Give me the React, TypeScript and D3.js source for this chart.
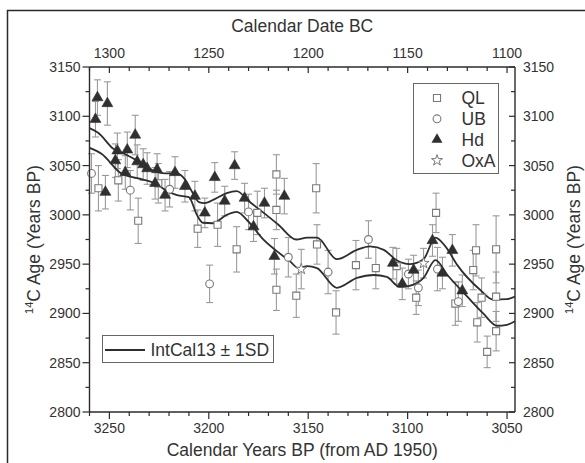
import React from "react";
import * as d3 from "d3";

// ---- data (BP year, 14C age, 1 sigma error) ----
const qlYears = [3255.5, 3245.5, 3235.5, 3225.4, 3205.6, 3195.6, 3186, 3175.6, 3166, 3166, 3166, 3156, 3146, 3145.6, 3136, 3126, 3116, 3105.5, 3095.7, 3085.7, 3076, 3067, 3065.6, 3065, 3062.8, 3060, 3055.5, 3055.5, 3055.5];
const qlAges = [3027, 3035, 2994, 3032, 2986, 2990, 2965, 3002, 3041, 3005, 2924, 2918, 3027, 2970, 2901, 2949, 2946, 2948, 2916, 3002, 2910, 2944, 2964, 2891, 2916, 2861, 2965, 2917, 2882];
const qlErrs = [23, 21, 23, 20, 19, 22, 23, 22, 20, 20, 21, 22, 25, 20, 22, 25, 21, 18, 17, 20, 22, 20, 26, 20, 20, 16, 34, 25, 20];

const ubYears = [3259, 3239.5, 3219.7, 3199.6, 3180, 3160, 3140, 3119.7, 3099.6, 3094.6, 3085, 3074.5];
const ubAges = [3042, 3025, 3026, 2930, 3003, 2957, 2942, 2975, 2940, 2926, 2945, 2912];
const ubErrs = [20, 20, 18, 19, 18, 20, 22, 19, 15, 18, 22, 20];

const hdYears = [3256, 3251, 3257, 3252, 3246, 3247, 3241, 3242, 3237, 3236, 3233, 3231, 3226, 3227, 3222, 3217, 3212, 3207, 3202, 3197, 3192, 3187, 3182, 3177.5, 3172, 3167, 3162, 3107.4, 3102.7, 3097, 3087.5, 3082.5, 3077.5, 3072.5];
const hdAges = [3119, 3113, 3097, 3023, 3065, 3055, 3066, 3043, 3081, 3054, 3051, 3047, 3046, 3032, 3020, 3043, 3029, 3019, 3002, 3038, 3014, 3050, 3017, 2988, 3012, 2958, 3019, 2951, 2930, 2944, 2974, 2941, 2964, 2923];
const hdErrs = [18, 22, 18, 17, 18, 17, 18, 17, 20, 17, 16, 16, 16, 16, 16, 16, 16, 15, 15, 15, 15, 14, 15, 15, 15, 18, 18, 16, 16, 15, 16, 16, 16, 16];

const oxaYears = [3153.5, 3092];
const oxaAges = [2945, 2951];
const oxaErrs = [20, 15];

const calYears = [3260, 3255.5, 3248, 3242, 3236, 3227, 3222, 3216, 3212, 3208, 3205, 3202, 3197, 3191, 3186, 3180, 3173, 3165, 3156, 3150.5, 3145.6, 3135.6, 3125.5, 3119, 3112, 3105.5, 3099, 3092, 3086, 3081, 3075, 3063.6, 3057, 3050, 3046];
const calUpper = [3088, 3083, 3067, 3061.5, 3055, 3044, 3042, 3042, 3036, 3022, 3013, 3012, 3016, 3022, 3024, 3014, 3003, 2990, 2975, 2977, 2977, 2955, 2964.5, 2968, 2964.5, 2954, 2950, 2955, 2977, 2968, 2949, 2924, 2914, 2914.5, 2917];
const calLowerYears = [3260, 3254, 3244, 3235.5, 3227, 3220, 3216, 3210, 3206, 3203, 3198, 3191, 3186, 3180, 3173, 3166.6, 3159, 3155, 3150.5, 3145.6, 3135.6, 3125.5, 3117, 3110.5, 3104, 3099, 3092, 3086, 3080, 3070, 3062, 3055, 3050, 3046];
const calLower = [3068, 3062, 3042, 3037, 3032, 3023, 3020, 3018, 3000, 2992, 2991.5, 3000, 3003, 2993, 2976, 2964.5, 2952.6, 2946, 2948, 2946, 2926, 2936, 2939, 2937, 2927, 2928, 2936, 2954, 2939, 2917, 2900, 2887.5, 2888.5, 2892];

const bottomTicks = [3250, 3200, 3150, 3100, 3050];
const topTicks = [1300, 1250, 1200, 1150, 1100];
const yTicks = [2800, 2850, 2900, 2950, 3000, 3050, 3100, 3150];
const legendNames = ["QL", "UB", "Hd", "OxA"];

const FONT = "'Liberation Sans', Arial, Helvetica, sans-serif";
const AXIS = "#2b2b2b";
const ERR = "#9a9a9a";
const MK = "#7a7a7a";

export default function App() {
  const W = 585, H = 463;
  const x = d3.scaleLinear().domain([3260, 3046]).range([89.5, 515]);
  const y = d3.scaleLinear().domain([2800, 3150]).range([412, 67]);
  const x0 = x(3260), x1 = x(3046), yTop = y(3150), yBot = y(2800);

  const minorX = d3.range(3260, 3045, -10);
  const minorY = d3.range(2800, 3151, 25);

  const line = d3.line<[number, number]>().x(d => x(d[0])).y(d => y(d[1])).curve(d3.curveMonotoneX);
  const upperPts: [number, number][] = calYears.map((t, i) => [t, calUpper[i]]);
  const lowerPts: [number, number][] = calLowerYears.map((t, i) => [t, calLower[i]]);

  const tri = d3.symbol().type(d3.symbolTriangle).size(52)()!;
  const sq = d3.symbol().type(d3.symbolSquare).size(50)()!;
  const star = d3.symbol().type(d3.symbolStar).size(38)()!;

  const errBar = (t: number, v: number, e: number, key: string) => {
    const cx = x(t);
    const ya = y(v + e), yb = y(v - e);
    return (
      <g key={key} stroke={ERR} strokeWidth={1.1}>
        <line x1={cx} x2={cx} y1={ya} y2={yb} />
        <line x1={cx - 3.5} x2={cx + 3.5} y1={ya} y2={ya} />
        <line x1={cx - 3.5} x2={cx + 3.5} y1={yb} y2={yb} />
      </g>
    );
  };

  return (
    <svg width={W} height={H} style={{ position: "absolute", left: 0, top: 0, background: "#fff" }} fontFamily={FONT}>
      <rect x={7.5} y={10.5} width={640} height={520} fill="none" stroke={AXIS} strokeWidth={1.5} />

      {/* error bars */}
      {qlYears.map((t, i) => errBar(t, qlAges[i], qlErrs[i], "eq" + i))}
      {ubYears.map((t, i) => errBar(t, ubAges[i], ubErrs[i], "eu" + i))}
      {hdYears.map((t, i) => errBar(t, hdAges[i], hdErrs[i], "eh" + i))}
      {oxaYears.map((t, i) => errBar(t, oxaAges[i], oxaErrs[i], "eo" + i))}

      {/* IntCal13 curves */}
      <path d={line(upperPts)!} fill="none" stroke="#2e2e2e" strokeWidth={1.8} />
      <path d={line(lowerPts)!} fill="none" stroke="#2e2e2e" strokeWidth={1.8} />

      {/* markers */}
      {qlYears.map((t, i) => (
        <path key={"q" + i} d={sq} transform={`translate(${x(t)},${y(qlAges[i])})`} fill="#fff" stroke={MK} strokeWidth={1.1} />
      ))}
      {ubYears.map((t, i) => (
        <circle key={"u" + i} cx={x(t)} cy={y(ubAges[i])} r={3.9} fill="#fff" stroke={MK} strokeWidth={1.1} />
      ))}
      {hdYears.map((t, i) => (
        <path key={"h" + i} d={tri} transform={`translate(${x(t)},${y(hdAges[i])})`} fill="#2f2f2f" stroke="#2f2f2f" strokeWidth={0.6} />
      ))}
      {oxaYears.map((t, i) => (
        <path key={"o" + i} d={star} transform={`translate(${x(t)},${y(oxaAges[i])})`} fill="#fff" stroke={MK} strokeWidth={1} />
      ))}

      {/* axes frame */}
      <g stroke={AXIS} strokeWidth={1.4}>
        <line x1={x0} x2={x1} y1={yTop} y2={yTop} />
        <line x1={x0} x2={x1} y1={yBot} y2={yBot} />
        <line x1={x0} x2={x0} y1={yTop} y2={yBot} />
        <line x1={x1} x2={x1} y1={yTop} y2={yBot} />
      </g>
      <g stroke={AXIS} strokeWidth={1.2}>
        {minorX.map(t => {
          const major = t % 50 === 0;
          return (
            <g key={"tx" + t}>
              <line x1={x(t)} x2={x(t)} y1={yBot} y2={yBot + (major ? 7 : 4)} />
              <line x1={x(t)} x2={x(t)} y1={yTop} y2={yTop + (major ? 6 : 4)} />
            </g>
          );
        })}
        {minorY.map(v => {
          const major = v % 50 === 0;
          return (
            <g key={"ty" + v}>
              <line x1={x0} x2={x0 - (major ? 7 : 4)} y1={y(v)} y2={y(v)} />
              <line x1={x1} x2={x1 - (major ? 6 : 4)} y1={y(v)} y2={y(v)} />
            </g>
          );
        })}
      </g>

      {/* tick labels */}
      <g fontSize={14} fill="#333">
        {bottomTicks.map(t => (
          <text key={"bl" + t} x={x(t)} y={433} textAnchor="middle">{t}</text>
        ))}
        {topTicks.map(t => (
          <text key={"tl" + t} x={x(t + 1950)} y={58} textAnchor="middle">{t}</text>
        ))}
        {yTicks.map(v => (
          <text key={"yl" + v} x={x0 - 9} y={y(v) + 5} textAnchor="end">{v}</text>
        ))}
        {yTicks.map(v => (
          <text key={"yr" + v} x={x1 + 8} y={y(v) + 5} textAnchor="start">{v}</text>
        ))}
      </g>

      {/* axis titles */}
      <g fontSize={17.5} fill="#333">
        <text x={(x0 + x1) / 2} y={32} textAnchor="middle">Calendar Date BC</text>
        <text x={(x0 + x1) / 2} y={456} textAnchor="middle">Calendar Years BP (from AD 1950)</text>
        <text transform={`translate(40,${(yTop + yBot) / 2}) rotate(-90)`} textAnchor="middle">
          <tspan fontSize={11} dy={-7}>14</tspan>
          <tspan dy={7}>C Age (Years BP)</tspan>
        </text>
        <text transform={`translate(580,${(yTop + yBot) / 2}) rotate(-90)`} textAnchor="middle">
          <tspan fontSize={11} dy={-7}>14</tspan>
          <tspan dy={7}>C Age (Years BP)</tspan>
        </text>
      </g>

      {/* legend top-right */}
      <g>
        <rect x={413.5} y={83.5} width={85} height={90} fill="#fff" stroke="#666" strokeWidth={1} />
        {legendNames.map((n, i) => {
          const cy = 98 + i * 20.8;
          const cx = 437;
          let sym;
          if (i === 0) sym = <path d={sq} transform={`translate(${cx},${cy})`} fill="#fff" stroke={MK} strokeWidth={1.1} />;
          else if (i === 1) sym = <circle cx={cx} cy={cy} r={3.9} fill="#fff" stroke={MK} strokeWidth={1.1} />;
          else if (i === 2) sym = <path d={tri} transform={`translate(${cx},${cy})`} fill="#2f2f2f" />;
          else sym = <path d={star} transform={`translate(${cx},${cy})`} fill="#fff" stroke={MK} strokeWidth={1} />;
          return (
            <g key={"lg" + n}>
              {sym}
              <text x={461.5} y={cy + 6.3} fontSize={17.5} fill="#333">{n}</text>
            </g>
          );
        })}
      </g>

      {/* legend bottom-left */}
      <g>
        <rect x={102.5} y={335.5} width={171} height={27} fill="#fff" stroke="#666" strokeWidth={1} />
        <line x1={105} x2={145} y1={350} y2={350} stroke="#2e2e2e" strokeWidth={1.8} />
        <text x={150.5} y={356} fontSize={17.5} fill="#333">IntCal13 ± 1SD</text>
      </g>
    </svg>
  );
}
